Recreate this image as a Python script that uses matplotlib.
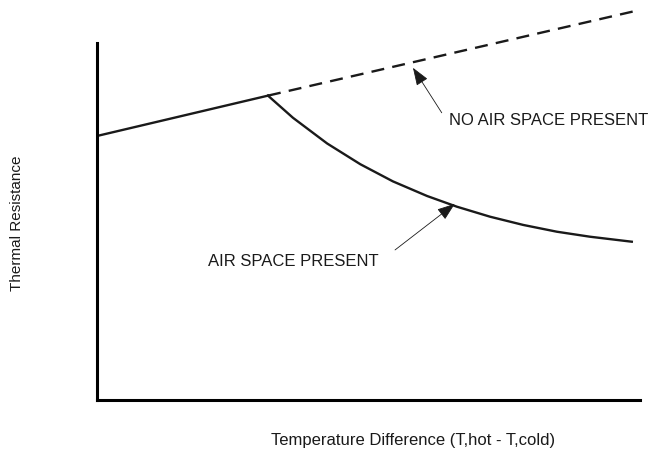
import matplotlib
matplotlib.use("Agg")
import matplotlib.pyplot as plt

plt.rcParams['font.family'] = ['Liberation Sans', 'DejaVu Sans']

# curve without air space (rising line, then dashed continuation)
rise_x = [0.0, 3.15]
rise_y = [7.39, 8.52]
dash_x = [3.15, 10.0]
dash_y = [8.52, 10.92]

# curve with air space (falls after the break point)
fall_x = [3.15, 3.61, 4.24, 4.85, 5.45, 6.08, 6.63, 7.24, 7.85, 8.47, 9.08, 9.85]
fall_y = [8.52, 7.90, 7.18, 6.60, 6.12, 5.71, 5.41, 5.13, 4.90, 4.71, 4.57, 4.43]

fig = plt.figure(figsize=(6.55, 4.55), dpi=100)
ax = fig.add_axes([0.148, 0.121, 0.829, 0.785])

ax.plot(rise_x, rise_y, color='#1a1a1a', lw=1.7, solid_joinstyle='round')
ax.plot(fall_x, fall_y, color='#1a1a1a', lw=1.7, solid_joinstyle='round')
ax.plot(dash_x, dash_y, color='#1a1a1a', lw=1.7, dashes=(5.5, 3.5), clip_on=False)

ax.set_xlim(0, 10)
ax.set_ylim(0, 10)

# only the left and bottom axes lines, no ticks
ax.spines['top'].set_visible(False)
ax.spines['right'].set_visible(False)
ax.spines['left'].set_linewidth(2.2)
ax.spines['bottom'].set_linewidth(2.2)
ax.set_xticks([])
ax.set_yticks([])

arrow = dict(arrowstyle='-|>,head_length=1.1,head_width=0.4', color='#1a1a1a',
             lw=0.6, shrinkA=0, shrinkB=0)
ax.annotate('', xy=(5.82, 9.30), xytext=(6.35, 8.04), arrowprops=arrow)
ax.text(6.48, 7.82, 'NO AIR SPACE PRESENT', fontsize=12, va='center', ha='left', color='#1a1a1a')
ax.annotate('', xy=(6.59, 5.49), xytext=(5.49, 4.20), arrowprops=arrow)
ax.text(2.04, 3.87, 'AIR SPACE PRESENT', fontsize=12, va='center', ha='left', color='#1a1a1a')

fig.text(0.026, 0.51, 'Thermal Resistance', rotation=90, fontsize=11,
         va='center', ha='center', color='#1a1a1a')
fig.text(0.630, 0.031, 'Temperature Difference (T,hot - T,cold)', fontsize=12,
         va='center', ha='center', color='#1a1a1a')

fig.savefig('out.png', dpi=100)
